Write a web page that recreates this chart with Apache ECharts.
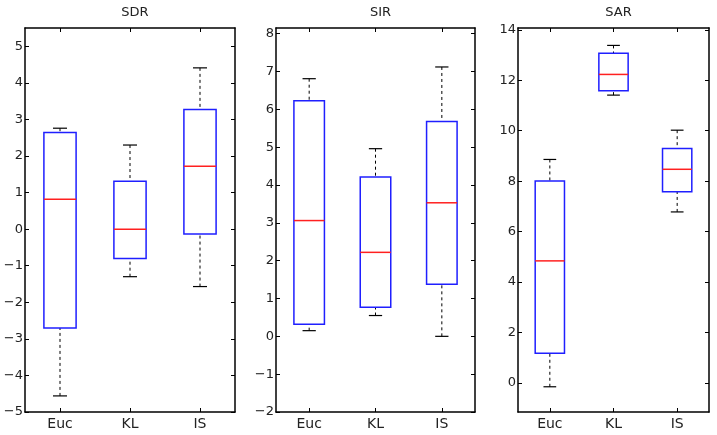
<!DOCTYPE html>
<html>
<head>
<meta charset="utf-8">
<script src="https://cdn.jsdelivr.net/npm/echarts@6/dist/echarts.min.js"></script>
<style>
html,body{margin:0;padding:0;background:#fff;}
#c{width:717px;height:435px;}
</style>
</head>
<body>
<div id="c"></div>
<script>
// ---- data ----
const categories = ['Euc', 'KL', 'IS'];
const panelTitles = ['SDR', 'SIR', 'SAR'];
// each box: [lower whisker, q1, median, q3, upper whisker]
const sdrBoxes = [
  [-4.56, -2.70, 0.82, 2.64, 2.76],
  [-1.30, -0.80, 0.00, 1.31, 2.30],
  [-1.57, -0.13, 1.72, 3.27, 4.41]
];
const sirBoxes = [
  [0.15, 0.32, 3.06, 6.23, 6.81],
  [0.55, 0.77, 2.22, 4.21, 4.96],
  [0.00, 1.38, 3.53, 5.68, 7.12]
];
const sarBoxes = [
  [-0.15, 1.18, 4.84, 8.01, 8.86],
  [11.41, 11.58, 12.23, 13.07, 13.38],
  [6.78, 7.58, 8.47, 9.29, 10.02]
];
const sdrTicks = [-5, -4, -3, -2, -1, 0, 1, 2, 3, 4, 5];
const sirTicks = [-2, -1, 0, 1, 2, 3, 4, 5, 6, 7, 8];
const sarTicks = [0, 2, 4, 6, 8, 10, 12, 14];
const yRanges = [[-5, 5.5], [-2, 8.15], [-1.15, 14.07]];

const boxesAll = [sdrBoxes, sirBoxes, sarBoxes];
const ticksAll = [sdrTicks, sirTicks, sarTicks];
const grids = [
  {left: 25, top: 28, width: 210, height: 384},
  {left: 276, top: 28, width: 199, height: 384},
  {left: 518, top: 28, width: 191, height: 384}
];

const txt = '#222';
const font = 'DejaVu Sans';
const axisLine = {show: true, onZero: false, lineStyle: {color: '#000', width: 1.5}};
const catPos = categories.map((c, i) => i + 1);

const xAxes = [], yAxes = [], series = [], titles = [];
grids.forEach((g, gi) => {
  titles.push({
    text: panelTitles[gi], left: g.left + g.width / 2, top: 1, textAlign: 'center',
    textStyle: {fontSize: 13, fontWeight: 'normal', color: txt, fontFamily: font}
  });
  const xBase = {
    type: 'value', gridIndex: gi, min: 0.5, max: 3.5,
    axisLine: axisLine, splitLine: {show: false},
    axisTick: {show: true, inside: true, length: 4, customValues: catPos, lineStyle: {color: '#000', width: 1}}
  };
  xAxes.push(Object.assign({}, xBase, {
    position: 'bottom',
    axisLabel: {show: true, customValues: catPos, margin: 5, fontSize: 14, color: txt, fontFamily: font,
      formatter: v => categories[Math.round(v) - 1]}
  }));
  xAxes.push(Object.assign({}, xBase, {position: 'top', axisLabel: {show: false}}));
  const yBase = {
    type: 'value', gridIndex: gi, min: yRanges[gi][0], max: yRanges[gi][1],
    axisLine: axisLine, splitLine: {show: false},
    axisTick: {show: true, inside: true, length: 4, customValues: ticksAll[gi], lineStyle: {color: '#000', width: 1}}
  };
  yAxes.push(Object.assign({}, yBase, {
    position: 'left',
    axisLabel: {show: true, customValues: ticksAll[gi], margin: 2, fontSize: 13, color: txt, fontFamily: font,
      formatter: v => String(v).replace('-', '\u2212')}
  }));
  yAxes.push(Object.assign({}, yBase, {position: 'right', axisLabel: {show: false}}));

  series.push({
    type: 'custom',
    xAxisIndex: gi * 2, yAxisIndex: gi * 2,
    silent: true,
    data: boxesAll[gi].map((b, i) => [i + 1].concat(b)),
    renderItem: function (params, api) {
      const x = api.value(0);
      const lo = api.value(1), q1 = api.value(2), med = api.value(3), q3 = api.value(4), hi = api.value(5);
      const hw = 0.23, cw = 0.1;
      const pL = api.coord([x - hw, q3]), pR = api.coord([x + hw, q1]);
      const c = api.coord([x, med]);
      const pHi = api.coord([x, hi]), pLo = api.coord([x, lo]);
      const pQ3 = api.coord([x, q3]), pQ1 = api.coord([x, q1]);
      const capL = api.coord([x - cw, hi])[0], capR = api.coord([x + cw, hi])[0];
      const dash = {stroke: '#000', lineWidth: 1, lineDash: [3, 3]};
      const solid = {stroke: '#000', lineWidth: 1.2};
      return {
        type: 'group',
        children: [
          {type: 'line', shape: {x1: pHi[0], y1: pHi[1], x2: pQ3[0], y2: pQ3[1]}, style: dash},
          {type: 'line', shape: {x1: pLo[0], y1: pLo[1], x2: pQ1[0], y2: pQ1[1]}, style: dash},
          {type: 'line', shape: {x1: capL, y1: pHi[1], x2: capR, y2: pHi[1]}, style: solid},
          {type: 'line', shape: {x1: capL, y1: pLo[1], x2: capR, y2: pLo[1]}, style: solid},
          {type: 'rect', shape: {x: pL[0], y: pL[1], width: pR[0] - pL[0], height: pR[1] - pL[1]},
            style: {fill: 'none', stroke: '#1f1fff', lineWidth: 1.5}},
          {type: 'line', shape: {x1: pL[0], y1: c[1], x2: pR[0], y2: c[1]}, style: {stroke: '#ff2020', lineWidth: 1.5}}
        ]
      };
    }
  });
});

const chart = echarts.init(document.getElementById('c'), null, {renderer: 'canvas'});
chart.setOption({
  animation: false,
  backgroundColor: '#fff',
  title: titles,
  grid: grids,
  xAxis: xAxes,
  yAxis: yAxes,
  series: series
});
</script>
</body>
</html>
